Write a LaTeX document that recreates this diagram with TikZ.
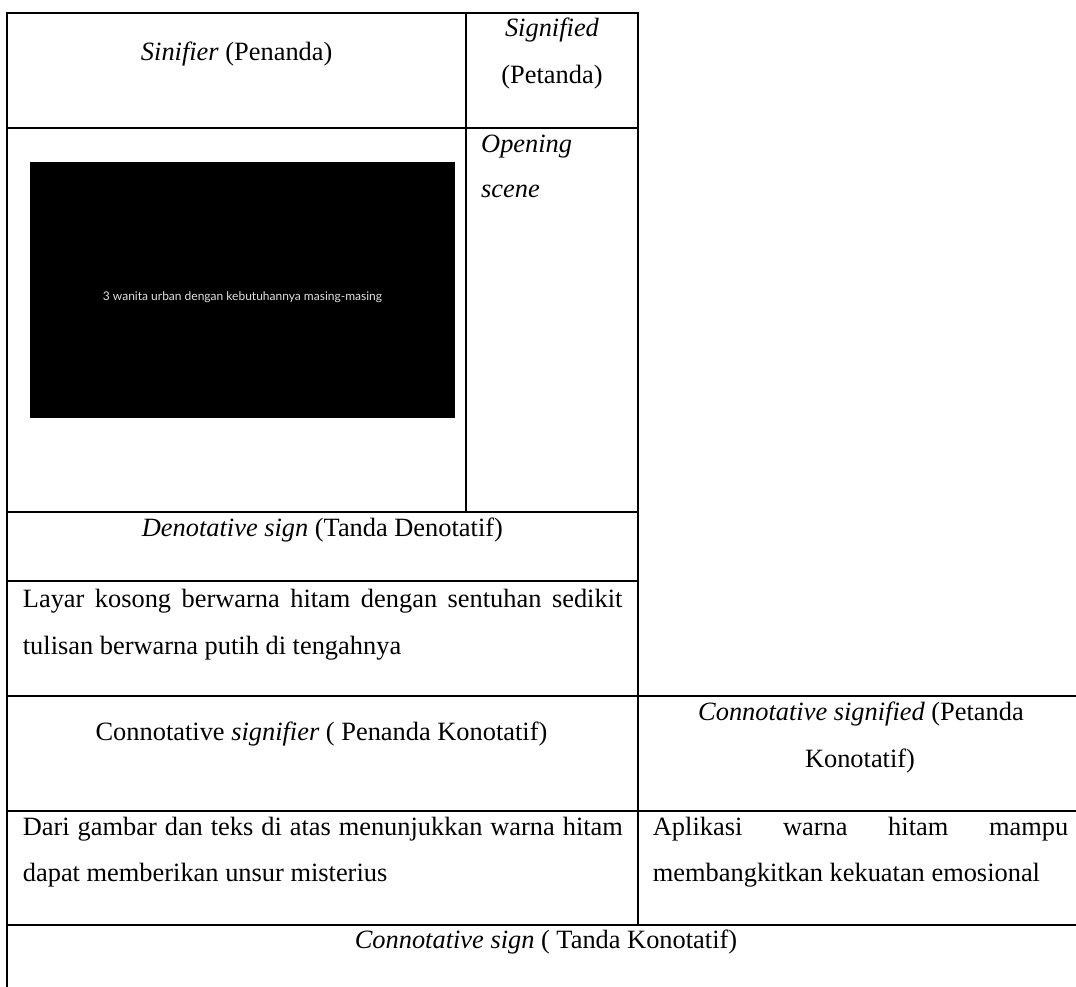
\documentclass[tikz,border=0pt]{standalone}
\usepackage{fontspec}
\setmainfont{Liberation Serif}
\newfontfamily\shotfont{Lato}
\begin{document}
\begin{tikzpicture}[x=1pt,y=-1pt,
  rule/.style={line width=2pt, line cap=rect},
  txt/.style={font=\fontsize{26.4pt}{30pt}\selectfont, inner sep=0pt, anchor=base},
  txtl/.style={txt, anchor=base west},
  shottxt/.style={font=\shotfont\fontsize{12pt}{14pt}\selectfont, text={rgb,255:red,225;green,225;blue,225}, inner sep=0pt, anchor=base}]
\useasboundingbox (0,0) rectangle (1076,987);
% rules
\draw[rule] (7.3,12.7) -- (637.5,12.7);
\draw[rule] (7.3,128) -- (637.5,128);
\draw[rule] (7.3,512.3) -- (637.5,512.3);
\draw[rule] (7.3,581) -- (637.5,581);
\draw[rule] (7.3,696) -- (1076,696);
\draw[rule] (7.3,810.7) -- (1076,810.7);
\draw[rule] (7.3,925.3) -- (1076,925.3);
\draw[rule] (7.3,12.7) -- (7.3,987);
\draw[rule] (466,12.7) -- (466,512.3);
\draw[rule] (637.5,12.7) -- (637.5,925.3);
% screenshot
\fill[black] (30,162.3) rectangle (455,418.3);
\node[shottxt] (shot) at (242.5,300) {3 wanita urban dengan kebutuhannya masing-masing};
% texts
\node[txt] (sinifier) at (236.7,61) {\textit{Sinifier} (Penanda)};
\node[txt] (signA) at (552,37) {\textit{Signified}};
\node[txt] (signB) at (552,84) {(Petanda)};
\node[txtl] (openA) at (481,152.7) {\textit{Opening}};
\node[txtl] (openB) at (481,198) {\textit{scene}};
\node[txt] (denot) at (322.4,536) {\textit{Denotative sign} (Tanda Denotatif)};
\node[txtl] (layarA) at (22.7,607.3) {\makebox[599.5pt][s]{Layar kosong berwarna hitam dengan sentuhan sedikit}};
\node[txtl] (layarB) at (22.7,654) {tulisan berwarna putih di tengahnya};
\node[txt] (consig) at (321.5,740) {Connotative \textit{signifier} ( Penanda Konotatif)};
\node[txt] (consigdA) at (861,720.7) {\textit{Connotative signified} (Petanda};
\node[txt] (consigdB) at (860,767.3) {Konotatif)};
\node[txtl] (dariA) at (22.7,835.3) {\makebox[600pt][s]{Dari gambar dan teks di atas menunjukkan warna hitam}};
\node[txtl] (dariB) at (22.7,881.7) {dapat memberikan unsur misterius};
\node[txtl] (aplA) at (652.7,835.7) {\makebox[415.3pt][s]{Aplikasi warna hitam mampu}};
\node[txtl] (aplB) at (652.7,881.7) {membangkitkan kekuatan emosional};
\node[txt] (consign) at (546,948.3) {\textit{Connotative sign} ( Tanda Konotatif)};
\end{tikzpicture}
\end{document}
